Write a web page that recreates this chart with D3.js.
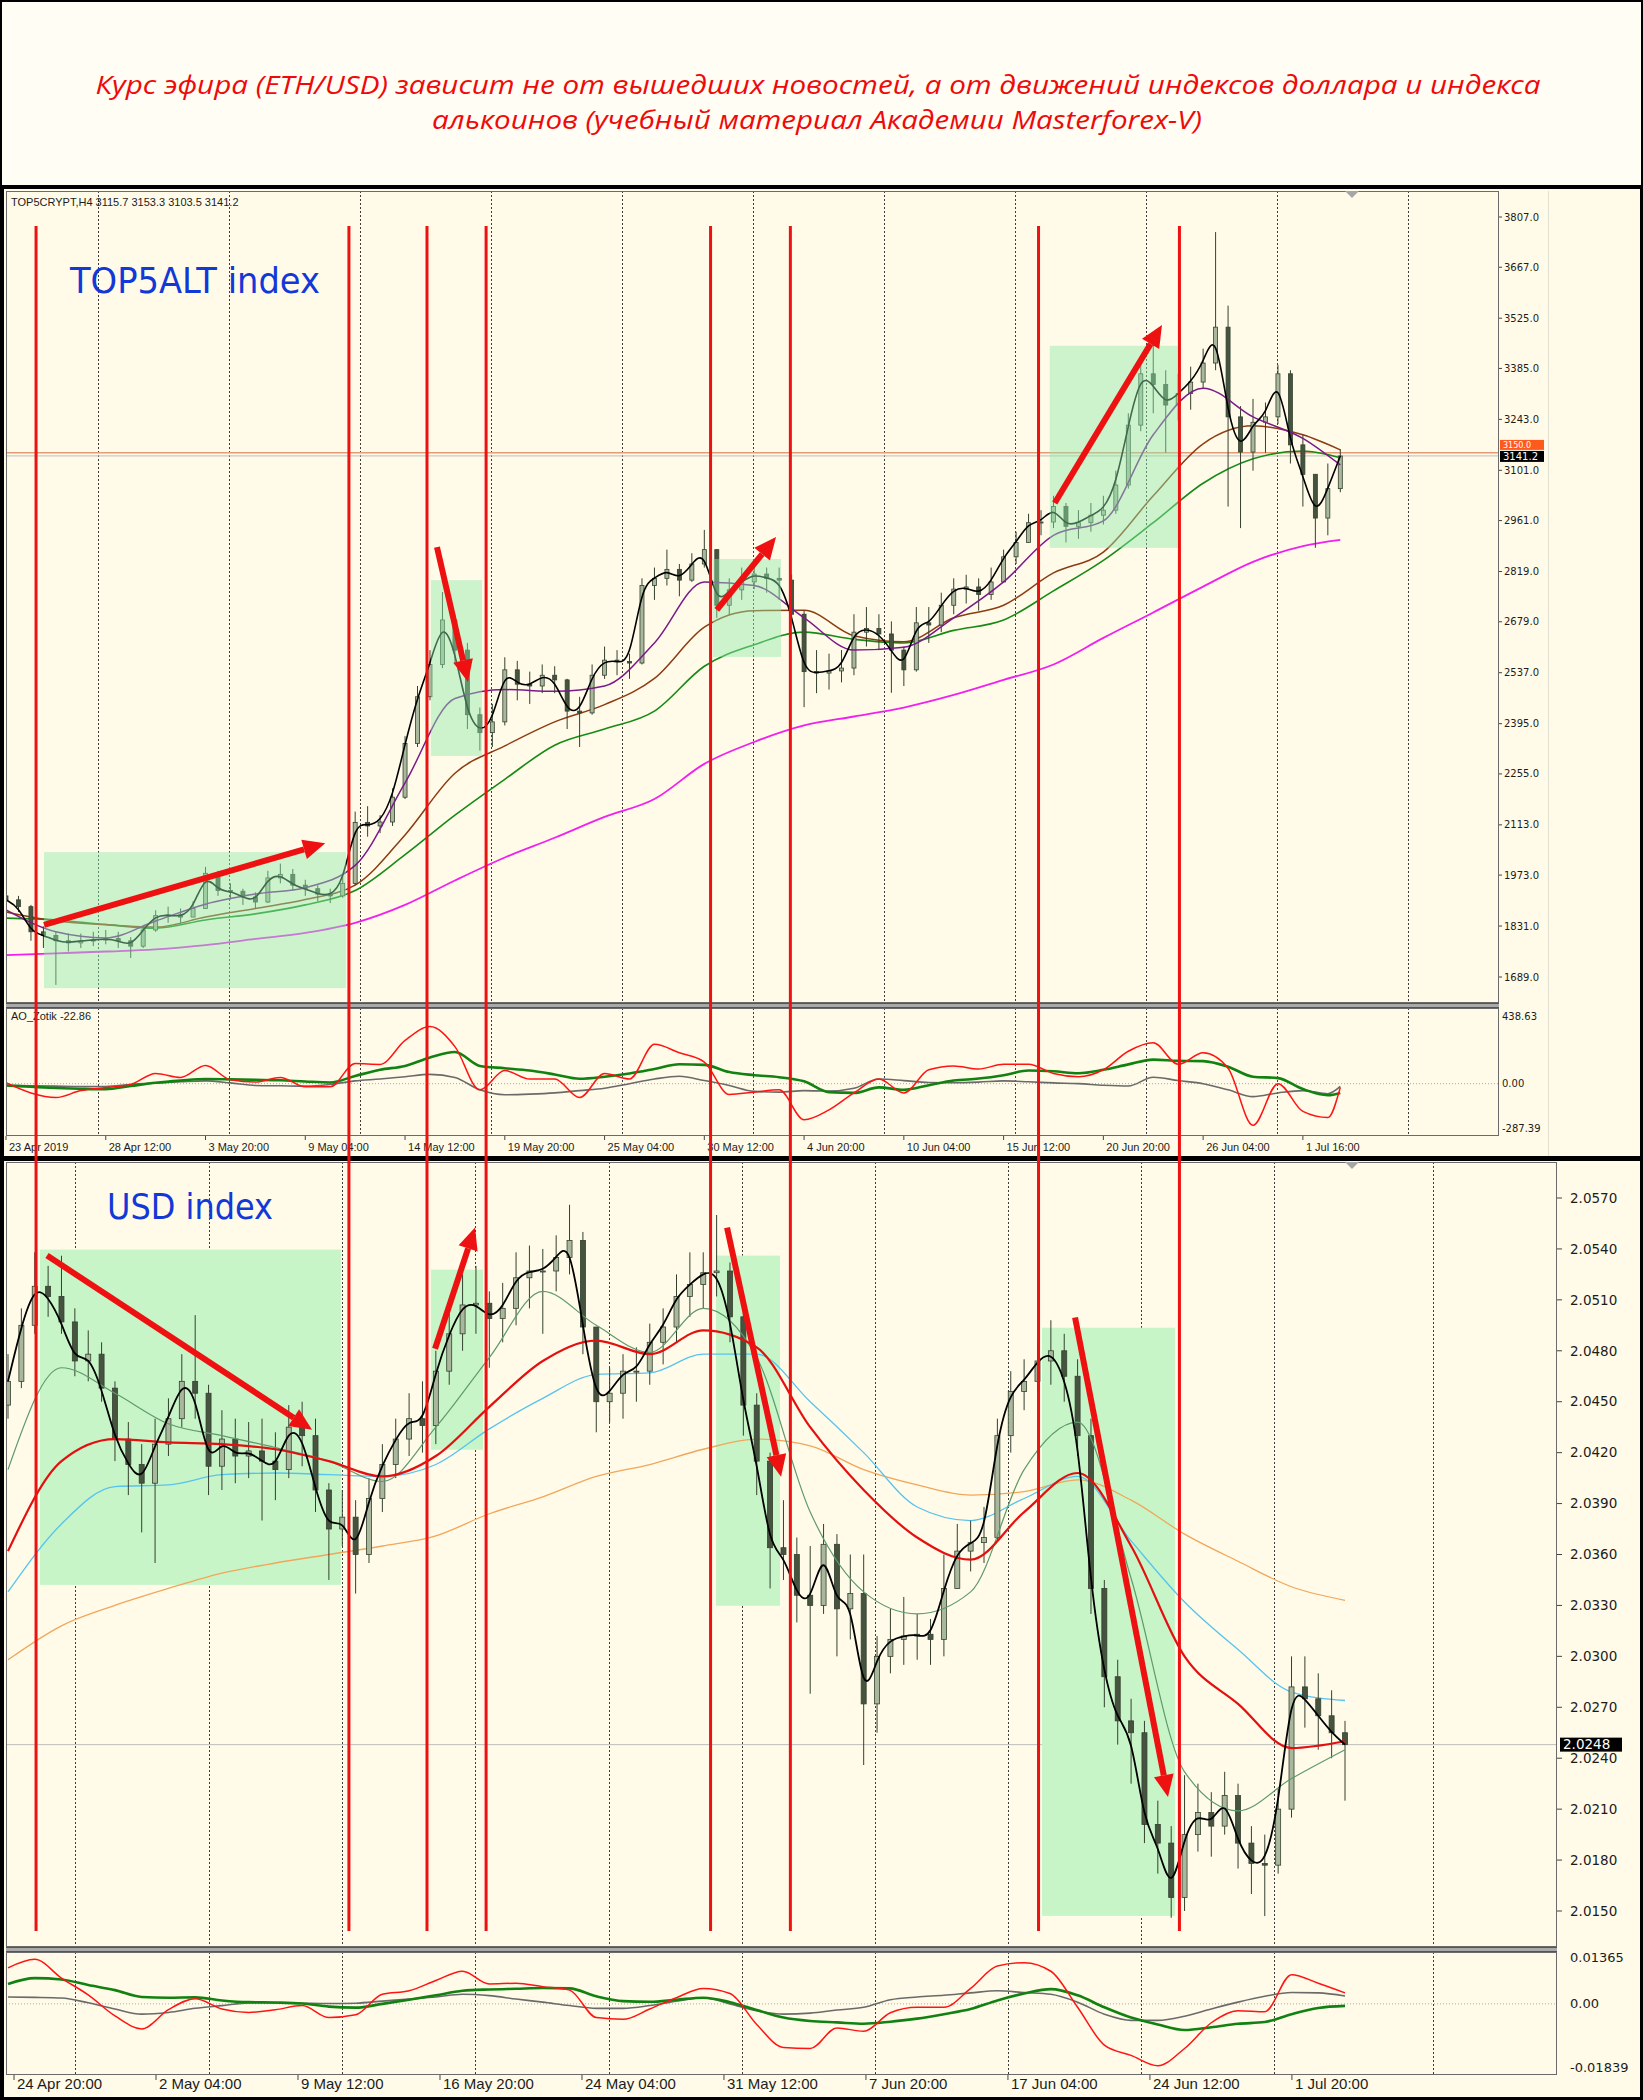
<!DOCTYPE html>
<html><head><meta charset="utf-8">
<script src="https://d3js.org/d3.v7.min.js"></script>
<style>html,body{margin:0;padding:0;background:#000}svg{display:block}</style>
</head><body>
<svg id="c" width="1643" height="2100"></svg>
<script>
// ================= DATA =================
const titleLines = ["Курс эфира  (ETH/USD) зависит не от вышедших новостей, а от движений индексов доллара и индекса",
                    "алькоинов (учебный материал Академии Masterforex-V)"];
const topInfo = "TOP5CRYPT,H4  3115.7 3153.3 3103.5 3141.2";
const topOscName = "AO_Zotik -22.86";
const topLabel = "TOP5ALT index";
const botLabel = "USD index";

// TOP5ALT H4 candles (one candle per 4 H4 bars)
const openTop0 = 1915;
const closeTop = [1904,1885,1815,1805,1790,1784,1790,1792,1796,1790,1775,1820,1860,1862,1856,1880,1978,1930,1928,1912,1898,1965,1975,1945,1935,1920,1915,1950,2120,2110,2121,2190,2340,2470,2560,2684,2600,2420,2370,2400,2545,2505,2500,2530,2517,2430,2425,2530,2572,2568,2564,2780,2800,2825,2795,2840,2880,2725,2768,2790,2812,2800,2795,2700,2540,2536,2542,2550,2650,2660,2645,2600,2545,2676,2670,2725,2770,2776,2755,2790,2860,2900,2955,2957,3000,2945,2955,2976,2990,3060,3227,3370,3340,3283,3315,3347,3400,3500,3250,3152,3235,3250,3370,3172,3090,2968,3050,3141];
const highTop = [1925,1915,1890,1830,1815,1810,1810,1815,1820,1815,1800,1830,1875,1885,1880,1900,1996,1985,1950,1935,1925,1985,2005,1990,1960,1945,1935,1975,2150,2165,2140,2215,2360,2500,2600,2762,2700,2620,2440,2450,2580,2570,2540,2560,2555,2520,2470,2560,2610,2600,2590,2800,2830,2880,2840,2870,2935,2860,2800,2830,2850,2830,2830,2810,2710,2600,2590,2600,2700,2720,2700,2680,2610,2720,2720,2760,2800,2810,2800,2830,2880,2930,2980,2990,3030,3010,2990,3010,3030,3100,3260,3400,3460,3380,3370,3390,3440,3765,3560,3280,3300,3290,3395,3380,3200,3080,3120,3160];
const lowTop = [1880,1870,1790,1770,1667,1760,1770,1775,1780,1770,1742,1770,1815,1840,1840,1860,1880,1915,1905,1890,1880,1895,1950,1930,1915,1900,1895,1910,1945,2080,2090,2110,2185,2330,2460,2550,2560,2380,2320,2330,2390,2460,2450,2480,2480,2380,2330,2420,2520,2530,2520,2560,2740,2780,2750,2790,2830,2690,2700,2740,2770,2760,2740,2680,2441,2480,2490,2510,2530,2610,2600,2481,2500,2540,2620,2650,2700,2730,2710,2740,2800,2840,2900,2920,2940,2900,2910,2930,2950,2980,3050,3210,3260,3150,3240,3270,3330,3380,3000,2940,3100,3150,3230,3120,3000,2885,2920,3040];
// TOP5ALT moving averages (every 4th candle + last)
const maTopPurple  = [1876,1815,1798,1845,1892,1920,1938,2000,2230,2465,2490,2485,2500,2620,2790,2780,2690,2600,2608,2690,2790,2920,2960,3200,3330,3250,3190,3116];
const maTopBrown   = [1870,1845,1835,1828,1856,1880,1905,1945,2085,2257,2333,2400,2448,2521,2664,2710,2711,2640,2623,2690,2725,2815,2873,3030,3175,3225,3200,3158];
const maTopGreen   = [1853,1848,1835,1825,1848,1865,1890,1930,2030,2140,2240,2335,2380,2430,2555,2615,2650,2630,2620,2655,2684,2765,2850,2955,3065,3133,3155,3136];
const maTopMagenta = [1750,1755,1760,1766,1778,1795,1812,1840,1890,1958,2022,2077,2135,2185,2283,2344,2390,2415,2440,2475,2517,2560,2634,2705,2777,2846,2890,2907];
const lastTop = 3141.2, orangeLevel = 3150.0;
// AO_Zotik oscillator (every 2nd candle + last)
const aoTopRed   = [6,-60,-90,-45,-25,-5,66,40,118,25,10,40,-20,-20,130,125,280,370,240,-40,85,30,30,-90,66,30,255,200,140,-70,-55,-40,-234,-170,-60,30,-60,90,115,95,126,126,66,45,90,210,265,126,200,100,-270,0,-180,-220,-24];
const aoTopGreen = [-12,-20,-28,-33,-36,-15,6,20,30,28,25,22,14,8,50,90,115,170,205,115,100,85,60,32,45,66,95,126,122,75,55,42,15,-55,-60,-24,-40,-10,20,33,55,85,80,68,90,125,156,148,146,110,45,36,-35,-75,-60];
const aoTopGray  = [-12,-14,-16,-18,-18,-5,4,12,18,5,-12,-14,-16,-5,18,30,45,60,40,-40,-72,-68,-60,-45,-30,0,30,48,20,-12,-50,-55,-45,-48,-30,30,20,8,6,10,18,12,5,0,-10,-15,42,20,0,-40,-84,-60,-45,-65,-18];

// USD index H4 candles (one candle per 3 H4 bars)
const openBot0 = 2.0448;
const closeBot = [2.0462,2.0495,2.0518,2.0512,2.0497,2.0474,2.0478,2.0458,2.0428,2.0413,2.0402,2.0425,2.0440,2.0462,2.0455,2.0412,2.0428,2.0418,2.0421,2.0415,2.0410,2.0435,2.0430,2.0398,2.0375,2.0382,2.0360,2.0393,2.0413,2.0428,2.0440,2.0436,2.0468,2.0490,2.0507,2.0508,2.0499,2.0505,2.0523,2.0527,2.0527,2.0535,2.0545,2.0494,2.0450,2.0455,2.0468,2.0468,2.0485,2.0494,2.0512,2.0519,2.0526,2.0527,2.0500,2.0448,2.0415,2.0364,2.0360,2.0336,2.0330,2.0366,2.0328,2.0337,2.0272,2.0300,2.0310,2.0312,2.0313,2.0310,2.0340,2.0362,2.0367,2.0370,2.0430,2.0456,2.0462,2.0474,2.0480,2.0465,2.0430,2.0340,2.0288,2.0262,2.0255,2.0201,2.0190,2.0158,2.0195,2.0208,2.0200,2.0218,2.0190,2.0178,2.0177,2.0210,2.0282,2.0275,2.0265,2.0255,2.0248];
const highBot = [2.0478,2.0505,2.0538,2.0530,2.0536,2.0505,2.0492,2.0485,2.0462,2.0438,2.0425,2.0440,2.0452,2.0478,2.0501,2.0460,2.0445,2.0440,2.0438,2.0440,2.0432,2.0448,2.0450,2.0440,2.0402,2.0398,2.0392,2.0405,2.0425,2.0440,2.0455,2.0462,2.0480,2.0502,2.0525,2.0530,2.0515,2.0520,2.0538,2.0542,2.0540,2.0548,2.0566,2.0550,2.0492,2.0470,2.0478,2.0482,2.0496,2.0505,2.0525,2.0538,2.0538,2.0560,2.0532,2.0510,2.0455,2.0420,2.0392,2.0370,2.0365,2.0378,2.0372,2.0360,2.0360,2.0312,2.0328,2.0335,2.0325,2.0322,2.0360,2.0378,2.0380,2.0388,2.0440,2.0468,2.0475,2.0485,2.0498,2.0490,2.0475,2.0440,2.0345,2.0298,2.0275,2.0262,2.0215,2.0200,2.0230,2.0225,2.0220,2.0232,2.0225,2.0200,2.0195,2.0222,2.0300,2.0300,2.0290,2.0280,2.0262];
const lowBot = [2.0440,2.0458,2.0490,2.0500,2.0490,2.0465,2.0462,2.0450,2.0415,2.0395,2.0373,2.0355,2.0418,2.0435,2.0440,2.0395,2.0398,2.0402,2.0405,2.0380,2.0392,2.0405,2.0412,2.0385,2.0345,2.0365,2.0337,2.0355,2.0385,2.0405,2.0418,2.0420,2.0425,2.0460,2.0480,2.0490,2.0470,2.0485,2.0495,2.0505,2.0490,2.0515,2.0525,2.0478,2.0432,2.0438,2.0440,2.0450,2.0460,2.0472,2.0485,2.0500,2.0505,2.0512,2.0485,2.0430,2.0395,2.0340,2.0345,2.0320,2.0278,2.0325,2.0300,2.0310,2.0236,2.0255,2.0290,2.0295,2.0298,2.0295,2.0300,2.0342,2.0350,2.0355,2.0368,2.0420,2.0445,2.0455,2.0460,2.0450,2.0418,2.0325,2.0270,2.0248,2.0225,2.0190,2.0172,2.0146,2.0150,2.0185,2.0182,2.0195,2.0175,2.0160,2.0147,2.0172,2.0205,2.0258,2.0245,2.0240,2.0215];
// USD index moving averages (every 4th candle)
const maBotThin   = [2.0410,2.0470,2.0455,2.0437,2.0430,2.0423,2.0415,2.0403,2.0435,2.0476,2.0515,2.0495,2.0479,2.0505,2.0476,2.0385,2.0338,2.0325,2.0338,2.0410,2.0438,2.0346,2.0232,2.0209,2.0228,2.0245];
const maBotRed    = [2.0362,2.0415,2.0428,2.0426,2.0425,2.0422,2.0415,2.0406,2.0418,2.0447,2.0474,2.0486,2.0478,2.0492,2.0482,2.0435,2.0398,2.0370,2.0357,2.0385,2.0408,2.0365,2.0300,2.0272,2.0246,2.0250];
const maBotBlue   = [2.0338,2.0378,2.0400,2.0401,2.0407,2.0408,2.0407,2.0406,2.0413,2.0434,2.0452,2.0466,2.0467,2.0478,2.0478,2.0450,2.0420,2.0388,2.0380,2.0393,2.0406,2.0368,2.0332,2.0304,2.0279,2.0274];
const maBotOrange = [2.0298,2.0318,2.0330,2.0340,2.0349,2.0355,2.0360,2.0365,2.0371,2.0384,2.0394,2.0406,2.0413,2.0422,2.0428,2.0424,2.0410,2.0401,2.0395,2.0397,2.0404,2.0392,2.0372,2.0356,2.0341,2.0333];
const lastBot = 2.0248;
// USD oscillator (every 2nd candle)
const oscBotRed   = [0.0105,0.0130,0.0075,0.0026,-0.0035,-0.0073,-0.0017,0.0015,-0.0015,-0.0025,-0.0017,-0.0005,-0.0040,-0.0032,0.0028,0.0038,0.0068,0.0095,0.0058,0.0060,0.0050,0.0040,-0.0040,-0.0045,-0.0015,0.0018,0.0045,0.0030,-0.0060,-0.0127,-0.0130,-0.0070,-0.0080,-0.0026,-0.0010,-0.0010,0.0045,0.0110,0.0120,0.0095,-0.0010,-0.0120,-0.0150,-0.0180,-0.0130,-0.0055,-0.0020,-0.0023,0.0085,0.0060,0.0032];
const oscBotGreen = [0.0058,0.0075,0.0071,0.0055,0.0040,0.0020,0.0018,0.0019,0.0010,0.0005,0.0004,0.0001,-0.0008,-0.0011,0.0000,0.0012,0.0025,0.0038,0.0042,0.0044,0.0046,0.0045,0.0022,0.0008,0.0006,0.0012,0.0018,0.0005,-0.0018,-0.0040,-0.0050,-0.0054,-0.0058,-0.0052,-0.0043,-0.0030,-0.0015,0.0010,0.0030,0.0043,0.0025,-0.0010,-0.0040,-0.0060,-0.0076,-0.0068,-0.0058,-0.0053,-0.0030,-0.0012,-0.0006];
const oscBotGray  = [0.0020,0.0019,0.0017,0.0003,-0.0015,-0.0030,-0.0025,-0.0013,-0.0005,0.0003,0.0003,0.0002,0.0001,0.0002,0.0008,0.0014,0.0020,0.0028,0.0024,0.0014,0.0005,-0.0005,-0.0013,-0.0013,-0.0005,0.0008,0.0018,0.0000,-0.0020,-0.0030,-0.0027,-0.0018,-0.0010,0.0012,0.0020,0.0025,0.0032,0.0038,0.0033,0.0028,0.0005,-0.0030,-0.0048,-0.0048,-0.0036,-0.0015,0.0005,0.0022,0.0033,0.0032,0.0023];

// Axis ticks / labels
const topPriceTicks = [3807.0,3667.0,3525.0,3385.0,3243.0,3101.0,2961.0,2819.0,2679.0,2537.0,2395.0,2255.0,2113.0,1973.0,1831.0,1689.0];
const topOscTicks = [438.63,0.00,-287.39];
const botPriceTicks = [2.0570,2.0540,2.0510,2.0480,2.0450,2.0420,2.0390,2.0360,2.0330,2.0300,2.0270,2.0240,2.0210,2.0180,2.0150];
const botOscTicks = [0.01365,0.00,-0.01839];
const topTimeLabels = ["23 Apr 2019","28 Apr 12:00","3 May 20:00","9 May 04:00","14 May 12:00","19 May 20:00","25 May 04:00","30 May 12:00","4 Jun 20:00","10 Jun 04:00","15 Jun 12:00","20 Jun 20:00","26 Jun 04:00","1 Jul 16:00"];
const botTimeLabels = ["24 Apr 20:00","2 May 04:00","9 May 12:00","16 May 20:00","24 May 04:00","31 May 12:00","7 Jun 20:00","17 Jun 04:00","24 Jun 12:00","1 Jul 20:00"];
// grid lines (candle index units)
const gridTop = [7.38,17.88,28.39,38.89,49.4,59.9,70.4,80.9,91.4,101.9,112.4];
const gridBot = [5.01,15.03,24.98,34.93,44.95,54.9,64.85,74.79,84.74,94.69,106.58];

// Annotations: vertical lines (top candle index), rectangles & arrows (index, price)
const redLines = [2.41,27.5,33.76,38.5,56.5,62.9,82.8,94.1];
const topRects = [[3.05,27.27,2037,1658],[34.08,38.17,2795,2305],[56.7,62.15,2854,2581],[83.7,94.0,3448,2885]];
const topArrows = [[3.05,1834,25.6,2062],[34.56,2887,37.05,2511],[57.0,2712,61.75,2915],[84.1,3010,92.7,3506]];
const botRects = [[2.39,24.9,2.05396,2.03421],[31.64,35.53,2.05278,2.04217],[52.95,57.74,2.05361,2.03298],[77.34,87.28,2.04936,2.01471]];
const botArrows = [[2.92,2.05361,22.74,2.04335],[31.94,2.04812,34.93,2.05526],[53.78,2.05526,57.82,2.04058],[79.81,2.04996,86.76,2.02172]];

// ================= DRAWING =================
const svg = d3.select('#c');
const CREAM = '#fffbe8';
const xT = d3.scaleLinear().domain([0,107]).range([6,1340.3]);
const yT = d3.scaleLinear().domain([1689,3807]).range([977,217]);
const yTo = d3.scaleLinear().domain([-287.39,438.63]).range([1128,1016]);
const xB = d3.scaleLinear().domain([0,100]).range([8,1345]);
const yB = d3.scaleLinear().domain([2.015,2.057]).range([1911,1198]);
const yBo = d3.scaleLinear().domain([-0.01839,0.01365]).range([2067,1957]);

svg.append('rect').attr('width',1643).attr('height',2100).attr('fill','#000');
svg.append('rect').attr('x',2).attr('y',2).attr('width',1639).attr('height',183).attr('fill','#fffdf4');
svg.append('rect').attr('x',4).attr('y',189).attr('width',1636).attr('height',967).attr('fill',CREAM);
svg.append('rect').attr('x',4).attr('y',1161).attr('width',1636).attr('height',936).attr('fill',CREAM);

// title
const tt = svg.append('g').attr('fill','#ee0a0a').attr('font-family','"Open Sans", "Liberation Sans", sans-serif')
  .attr('font-style','italic').attr('font-size',25).attr('text-anchor','middle');
tt.append('text').attr('x',818).attr('y',94).attr('textLength',1445).attr('lengthAdjust','spacingAndGlyphs').text(titleLines[0]);
tt.append('text').attr('x',817).attr('y',129).attr('textLength',770).attr('lengthAdjust','spacingAndGlyphs').text(titleLines[1]);

const panes = {tp:{x0:6,x1:1499,y0:191,y1:1003},to:{x0:6,x1:1499,y0:1008,y1:1136},
               bp:{x0:6,x1:1557,y0:1162,y1:1947},bo:{x0:6,x1:1557,y0:1952,y1:2075}};
const defs = svg.append('defs');
const g = {};
Object.entries(panes).forEach(([k,p])=>{
  defs.append('clipPath').attr('id','clip-'+k).append('rect').attr('x',p.x0).attr('y',p.y0).attr('width',p.x1-p.x0).attr('height',p.y1-p.y0);
  g[k] = svg.append('g').attr('clip-path',`url(#clip-${k})`);
});
svg.append('line').attr('x1',1548.5).attr('x2',1548.5).attr('y1',191).attr('y2',1156).attr('stroke','#e2e0d0');

function vgrid(gr,xs,vals,p){
  gr.selectAll(null).data(vals).join('line')
    .attr('x1',d=>Math.round(xs(d))+0.5).attr('x2',d=>Math.round(xs(d))+0.5).attr('y1',p.y0).attr('y2',p.y1)
    .attr('stroke','#3c3c3c').attr('stroke-width',1).attr('stroke-dasharray','2,2');
}
vgrid(g.tp,xT,gridTop,panes.tp); vgrid(g.to,xT,gridTop,panes.to);
vgrid(g.bp,xB,gridBot,panes.bp); vgrid(g.bo,xB,gridBot,panes.bo);

function hline(gr,p,y,color,w,dash){gr.append('line').attr('x1',p.x0).attr('x2',p.x1).attr('y1',y).attr('y2',y).attr('stroke',color).attr('stroke-width',w||1).attr('stroke-dasharray',dash||null);}
hline(g.tp,panes.tp,yT(orangeLevel),'#e59a78',1.5);
hline(g.tp,panes.tp,yT(lastTop),'#bdbdbd',1);
hline(g.bp,panes.bp,yB(lastBot),'#bdbdbd',1);
hline(g.to,panes.to,yTo(0),'#a8a8a8',1,'1,2');
hline(g.bo,panes.bo,yBo(0),'#a8a8a8',1,'1,2');

g.bp.selectAll(null).data(botRects).join('rect')
  .attr('x',d=>xB(d[0])).attr('width',d=>xB(d[1])-xB(d[0]))
  .attr('y',d=>yB(d[2])).attr('height',d=>yB(d[3])-yB(d[2])).attr('fill','#c8f5c8');

function drawLine(gr,xs,ys,ks,vals,color,w,curve){
  gr.append('path').datum(vals.map((v,i)=>[ks[i],v]))
    .attr('d',d3.line().x(d=>xs(d[0])).y(d=>ys(d[1])).curve(curve||d3.curveMonotoneX))
    .attr('fill','none').attr('stroke',color).attr('stroke-width',w).attr('stroke-linejoin','round');
}
function candles(gr,xs,ys,close,high,low,first,bw){
  const data = close.map((c,i)=>{const o=i?close[i-1]:first;return {i,o,c,h:Math.max(high[i],o,c),l:Math.min(low[i],o,c)};});
  const cg = gr.append('g');
  cg.selectAll(null).data(data).join('line')
    .attr('x1',d=>xs(d.i)).attr('x2',d=>xs(d.i)).attr('y1',d=>ys(d.h)).attr('y2',d=>ys(d.l))
    .attr('stroke','#34402f').attr('stroke-width',1);
  cg.selectAll(null).data(data).join('rect')
    .attr('x',d=>xs(d.i)-bw/2).attr('width',bw)
    .attr('y',d=>ys(Math.max(d.o,d.c))).attr('height',d=>Math.max(1,Math.abs(ys(d.o)-ys(d.c))))
    .attr('fill',d=>d.c>=d.o?'#a9b89c':'#46543f').attr('stroke','#34402f').attr('stroke-width',0.8);
}

// TOP price pane
const maKT = d3.range(0,105,4).concat([107]);
const candleKT = d3.range(closeTop.length);
drawLine(g.tp,xT,yT,maKT,maTopMagenta,'#f020f0',1.8);
drawLine(g.tp,xT,yT,maKT,maTopGreen,'#168a16',1.6);
drawLine(g.tp,xT,yT,maKT,maTopBrown,'#8c3c12',1.5);
candles(g.tp,xT,yT,closeTop,highTop,lowTop,openTop0,4);
drawLine(g.tp,xT,yT,maKT,maTopPurple,'#7a1a8a',1.5);
drawLine(g.tp,xT,yT,candleKT,closeTop,'#000',1.6,d3.curveBasis);
g.tp.selectAll(null).data(topRects).join('rect')
  .attr('x',d=>xT(d[0])).attr('width',d=>xT(d[1])-xT(d[0]))
  .attr('y',d=>yT(d[2])).attr('height',d=>yT(d[3])-yT(d[2])).attr('fill','#8ee9aa').attr('opacity',0.45);

// BOTTOM price pane
const maKB = d3.range(0,101,4);
const candleKB = d3.range(closeBot.length);
drawLine(g.bp,xB,yB,maKB,maBotOrange,'#f2a65a',1.3);
drawLine(g.bp,xB,yB,maKB,maBotBlue,'#57c3ee',1.3);
candles(g.bp,xB,yB,closeBot,highBot,lowBot,openBot0,5);
drawLine(g.bp,xB,yB,maKB,maBotThin,'#5e9a6c',1.2);
drawLine(g.bp,xB,yB,maKB,maBotRed,'#e41010',2.2);
drawLine(g.bp,xB,yB,candleKB,closeBot,'#000',1.8,d3.curveBasis);

// Oscillators
const oscKT = d3.range(0,107,2).concat([107]);
drawLine(g.to,xT,yTo,oscKT,aoTopGray,'#6a6a6a',1.6);
drawLine(g.to,xT,yTo,oscKT,aoTopGreen,'#118211',2.6);
drawLine(g.to,xT,yTo,oscKT,aoTopRed,'#ff1414',1.5);
const oscKB = d3.range(0,101,2);
drawLine(g.bo,xB,yBo,oscKB,oscBotGray,'#6a6a6a',1.6);
drawLine(g.bo,xB,yBo,oscKB,oscBotGreen,'#118211',2.6);
drawLine(g.bo,xB,yBo,oscKB,oscBotRed,'#ff1414',1.5);

// Frames and separators
Object.values(panes).forEach(p=>svg.append('rect').attr('x',p.x0+0.5).attr('y',p.y0+0.5)
  .attr('width',p.x1-p.x0-1).attr('height',p.y1-p.y0-1).attr('fill','none').attr('stroke','#6b6b6b'));
[[panes.tp,1003],[panes.bp,1947]].forEach(([p,y])=>{
  svg.append('rect').attr('x',p.x0).attr('y',y).attr('width',p.x1-p.x0).attr('height',5).attr('fill','#a9a9a9');
  svg.append('line').attr('x1',p.x0).attr('x2',p.x1).attr('y1',y+0.5).attr('y2',y+0.5).attr('stroke','#555');
  svg.append('line').attr('x1',p.x0).attr('x2',p.x1).attr('y1',y+4.5).attr('y2',y+4.5).attr('stroke','#555');
});
[[1352,191],[1352,1162]].forEach(([x,y])=>svg.append('path').attr('d',`M${x-7},${y}L${x+7},${y}L${x},${y+7}Z`).attr('fill','#a6a6a6'));

// Price axes
const ax = svg.append('g').attr('fill','#1c1c1c').attr('font-family','"DejaVu Sans", Verdana, sans-serif');
ax.selectAll(null).data(topPriceTicks).join('text').attr('x',1504).attr('y',d=>yT(d)).attr('dy','0.35em')
  .attr('font-size',10).text(d=>d.toFixed(1));
ax.selectAll(null).data(topPriceTicks).join('line').attr('x1',1499).attr('x2',1502).attr('y1',d=>yT(d)).attr('y2',d=>yT(d)).attr('stroke','#444');
ax.selectAll(null).data(topOscTicks).join('text').attr('x',1502).attr('y',d=>yTo(d)).attr('dy','0.35em')
  .attr('font-size',10).text(d=>d.toFixed(2));
ax.selectAll(null).data(botPriceTicks).join('text').attr('x',1570).attr('y',d=>yB(d)).attr('dy','0.35em')
  .attr('font-size',13.5).text(d=>d.toFixed(4));
ax.selectAll(null).data(botPriceTicks).join('line').attr('x1',1557).attr('x2',1562).attr('y1',d=>yB(d)).attr('y2',d=>yB(d)).attr('stroke','#444');
ax.selectAll(null).data(botOscTicks).join('text').attr('x',1570).attr('y',d=>yBo(d)).attr('dy','0.35em')
  .attr('font-size',13).text(d=>d===0?'0.00':d.toFixed(5));

// Current-price boxes (orange level box sits just above the last-price box)
function priceBox(x,yTop,w,h,fill,txt,fs){
  svg.append('rect').attr('x',x).attr('y',yTop).attr('width',w).attr('height',h).attr('fill',fill);
  svg.append('text').attr('x',x+3).attr('y',yTop+h/2).attr('dy','0.35em').attr('fill','#fff')
    .attr('font-family','"DejaVu Sans", Verdana, sans-serif').attr('font-size',fs).text(txt);
}
const lastTopY = yT(lastTop);
priceBox(1500,lastTopY-16,44,10,'#ff5a1e',orangeLevel.toFixed(1),8);
priceBox(1500,lastTopY-5,44,11,'#000',lastTop.toFixed(1),10);
priceBox(1560,yB(lastBot)-7,62,14,'#000',lastBot.toFixed(4),13.5);

// Time axes
const tx = svg.append('g').attr('fill','#1c1c1c').attr('font-family','"Liberation Sans", Arial, sans-serif');
tx.selectAll(null).data(topTimeLabels).join('text').attr('x',(d,i)=>xT(8*i)+3).attr('y',1151).attr('font-size',11).text(d=>d);
tx.selectAll(null).data(topTimeLabels).join('line').attr('x1',(d,i)=>xT(8*i)).attr('x2',(d,i)=>xT(8*i)).attr('y1',1136).attr('y2',1140).attr('stroke','#444');
const botLabelK = botTimeLabels.map((d,i)=>0.45+10.62*i);
tx.selectAll(null).data(botTimeLabels).join('text').attr('x',(d,i)=>xB(botLabelK[i])+3).attr('y',2089).attr('font-size',15).text(d=>d);
tx.selectAll(null).data(botTimeLabels).join('line').attr('x1',(d,i)=>xB(botLabelK[i])).attr('x2',(d,i)=>xB(botLabelK[i])).attr('y1',2075).attr('y2',2080).attr('stroke','#444');

tx.append('text').attr('x',11).attr('y',206).attr('font-size',11).text(topInfo);
tx.append('text').attr('x',11).attr('y',1020).attr('font-size',11).text(topOscName);

// Annotations
const ann = svg.append('g');
ann.selectAll(null).data(redLines).join('line').attr('x1',d=>xT(d)).attr('x2',d=>xT(d)).attr('y1',226).attr('y2',1931)
  .attr('stroke','#ee1111').attr('stroke-width',3);
function arrow(x1,y1,x2,y2){
  const a=Math.atan2(y2-y1,x2-x1),L=22,Wd=10;
  const bx=x2-L*Math.cos(a),by=y2-L*Math.sin(a);
  ann.append('line').attr('x1',x1).attr('y1',y1).attr('x2',bx).attr('y2',by).attr('stroke','#ee1111').attr('stroke-width',6);
  ann.append('path').attr('d',`M${x2},${y2}L${bx+Wd*Math.sin(a)},${by-Wd*Math.cos(a)}L${bx-Wd*Math.sin(a)},${by+Wd*Math.cos(a)}Z`).attr('fill','#ee1111');
}
topArrows.forEach(d=>arrow(xT(d[0]),yT(d[1]),xT(d[2]),yT(d[3])));
botArrows.forEach(d=>arrow(xB(d[0]),yB(d[1]),xB(d[2]),yB(d[3])));

const bl = svg.append('g').attr('fill','#1238d8').attr('font-family','"DejaVu Sans", Verdana, sans-serif').attr('font-size',35);
bl.append('text').attr('x',70).attr('y',293).attr('textLength',250).attr('lengthAdjust','spacingAndGlyphs').text(topLabel);
bl.append('text').attr('x',107).attr('y',1219).attr('textLength',166).attr('lengthAdjust','spacingAndGlyphs').text(botLabel);
</script></body></html>
